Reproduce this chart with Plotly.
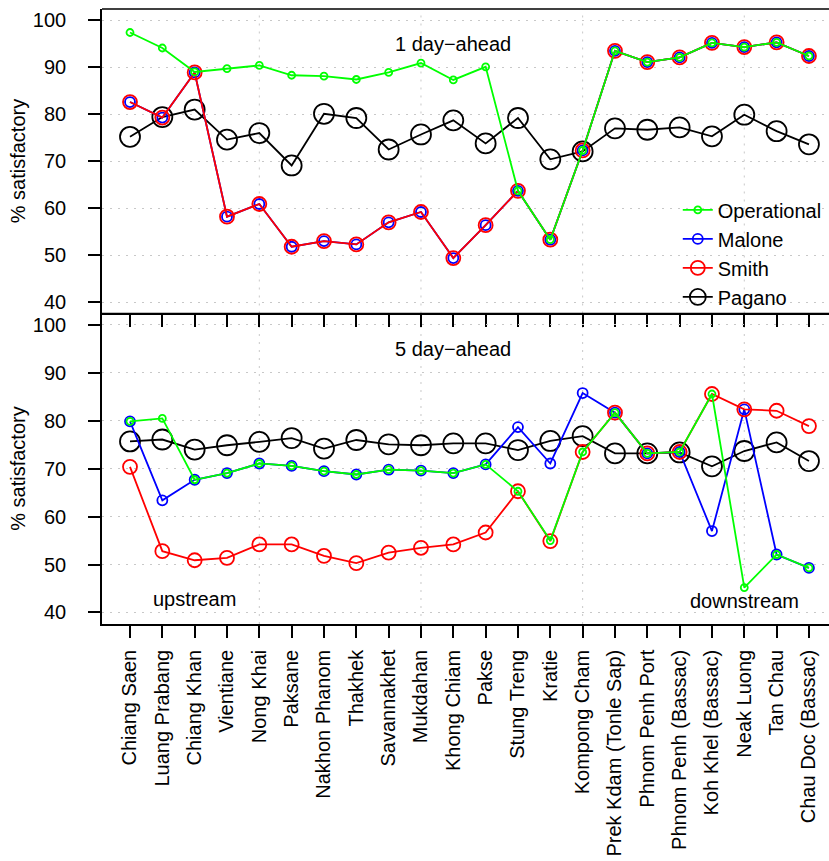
import plotly.graph_objects as go

stations = ["Chiang Saen", "Luang Prabang", "Chiang Khan", "Vientiane", "Nong Khai",
            "Paksane", "Nakhon Phanom", "Thakhek", "Savannakhet", "Mukdahan",
            "Khong Chiam", "Pakse", "Stung Treng", "Kratie", "Kompong Cham",
            "Prek Kdam (Tonle Sap)", "Phnom Penh Port", "Phnom Penh (Bassac)",
            "Koh Khel (Bassac)", "Neak Luong", "Tan Chau", "Chau Doc (Bassac)"]

# 1 day-ahead
op1 = [97.4, 94.1, 89.0, 89.7, 90.4, 88.3, 88.1, 87.4, 88.9, 90.9, 87.3,
       90.1, 63.7, 53.3, 72.3, 93.5, 91.1, 92.1, 95.2, 94.3, 95.3, 92.4]
ma1 = [82.6, 79.3, 88.9, 58.2, 60.9, 51.8, 53.0, 52.3, 57.0, 59.2, 49.4,
       56.4, 63.7, 53.3, 72.3, 93.5, 91.1, 92.1, 95.2, 94.3, 95.3, 92.4]
sm1 = [82.6, 79.3, 88.9, 58.2, 60.9, 51.8, 53.0, 52.3, 57.0, 59.2, 49.4,
       56.4, 63.7, 53.3, 72.3, 93.5, 91.1, 92.1, 95.2, 94.3, 95.3, 92.4]
pa1 = [75.2, 79.4, 81.0, 74.6, 76.0, 69.1, 80.1, 79.2, 72.5, 75.7, 78.7,
       73.8, 79.2, 70.4, 72.1, 77.0, 76.7, 77.2, 75.3, 79.9, 76.4, 73.6]

# 5 day-ahead
op5 = [79.9, 80.5, 67.7, 69.1, 71.1, 70.6, 69.5, 68.8, 69.8, 69.6, 69.1,
       70.9, 65.3, 55.0, 73.5, 81.7, 73.2, 73.5, 85.6, 45.2, 52.1, 49.3]
ma5 = [79.9, 63.4, 67.7, 69.1, 71.1, 70.6, 69.5, 68.8, 69.8, 69.6, 69.1,
       70.9, 78.7, 71.1, 85.8, 81.7, 73.2, 73.5, 57.0, 82.4, 52.1, 49.3]
sm5 = [70.4, 52.8, 50.9, 51.4, 54.2, 54.2, 51.8, 50.3, 52.5, 53.5, 54.2,
       56.7, 65.3, 54.9, 73.5, 81.7, 73.2, 73.5, 85.6, 82.4, 82.1, 78.9]
pa5 = [75.7, 76.1, 74.0, 74.9, 75.6, 76.4, 74.2, 76.0, 75.1, 74.9, 75.3,
       75.3, 73.9, 75.8, 76.8, 73.2, 73.2, 73.4, 70.5, 73.7, 75.5, 71.6]

y_ticks = [40, 50, 60, 70, 80, 90, 100]
series_names = ["Operational", "Malone", "Smith", "Pagano"]
colors = {"Operational": "#00FF00", "Malone": "#0000FF", "Smith": "#FF0000", "Pagano": "#000000"}
msize = {"Operational": 7, "Malone": 10, "Smith": 14, "Pagano": 20}
rank = {"Operational": 1, "Malone": 2, "Smith": 3, "Pagano": 4}

xi = list(range(len(stations)))
FONT = "Liberation Sans, Arial, Helvetica, sans-serif"
FS = 20
GRID = "#C8C8C8"
GDASH = "2px,6px"

fig = go.Figure()

panels = [
    ("x", "y", {"Pagano": pa1, "Malone": ma1, "Smith": sm1, "Operational": op1}, True),
    ("x2", "y2", {"Pagano": pa5, "Malone": ma5, "Smith": sm5, "Operational": op5}, False),
]
for xa, ya, data, show in panels:
    for name in ["Pagano", "Malone", "Smith", "Operational"]:
        fig.add_trace(go.Scatter(
            x=xi, y=data[name], xaxis=xa, yaxis=ya, name=name,
            mode="lines+markers", showlegend=show, legendrank=rank[name],
            line=dict(color=colors[name], width=1.8),
            marker=dict(symbol="circle-open", size=msize[name],
                        color=colors[name], line=dict(width=1.8, color=colors[name])),
        ))

xr = [-0.866, 21.62]
split = 0.5049
axis_common = dict(showline=True, linecolor="black", linewidth=1.6,
                   ticks="outside", ticklen=12, tickwidth=1.6, tickcolor="black",
                   zeroline=False, automargin=False)
fig.update_layout(
    width=829, height=861,
    margin=dict(l=102, r=0, t=9, b=237),
    paper_bgcolor="white", plot_bgcolor="white",
    font=dict(family=FONT, size=FS, color="black"),
    xaxis=dict(domain=[0, 1], range=xr, anchor="y", tickvals=xi, ticktext=[""] * len(xi),
               showgrid=False, **axis_common),
    yaxis=dict(domain=[split, 1], range=[37.6, 102.4], anchor="x", tickvals=y_ticks,
               showgrid=True, gridcolor=GRID, griddash=GDASH, gridwidth=1,
               ticklabelstandoff=18, **axis_common),
    xaxis2=dict(domain=[0, 1], range=xr, anchor="y2", tickvals=xi, ticktext=stations,
                tickangle=-90, showgrid=False, ticklabelstandoff=4, **axis_common),
    yaxis2=dict(domain=[0, split], range=[37.6, 102.4], anchor="x2", tickvals=y_ticks,
                showgrid=True, gridcolor=GRID, griddash=GDASH, gridwidth=1,
                ticklabelstandoff=18, **axis_common),
    legend=dict(x=0.792, y=0.705, xanchor="left", yanchor="top", bgcolor="rgba(0,0,0,0)",
                font=dict(size=FS), itemsizing="trace", tracegroupgap=0),
    showlegend=True,
)

shapes = []
for xr_, yr_ in [("x", "y"), ("x2", "y2")]:
    for gx in [4, 9, 14, 19]:
        shapes.append(dict(type="line", xref=xr_, yref=yr_ + " domain", x0=gx, x1=gx, y0=0, y1=1,
                           line=dict(color=GRID, width=1, dash=GDASH), layer="below"))
shapes.append(dict(type="line", xref="paper", yref="y domain", x0=0, x1=1, y0=1, y1=1,
                   line=dict(color="black", width=1.6)))
shapes.append(dict(type="line", xref="paper", yref="y2 domain", x0=0, x1=1, y0=1, y1=1,
                   line=dict(color="black", width=1.6)))
fig.update_layout(shapes=shapes)

ann = [
    dict(x=10, y=95, xref="x", yref="y", text="1 day\u2212ahead", showarrow=False),
    dict(x=10, y=95, xref="x2", yref="y2", text="5 day\u2212ahead", showarrow=False),
    dict(x=2, y=42.9, xref="x2", yref="y2", text="upstream", showarrow=False),
    dict(x=19, y=42.3, xref="x2", yref="y2", text="downstream", showarrow=False),
    dict(x=-0.1155, y=(split + 1) / 2, xref="paper", yref="paper", text="% satisfactory",
         textangle=-90, showarrow=False, xanchor="center", yanchor="middle"),
    dict(x=-0.1155, y=split / 2, xref="paper", yref="paper", text="% satisfactory",
         textangle=-90, showarrow=False, xanchor="center", yanchor="middle"),
]
for a in ann:
    a["font"] = dict(family=FONT, size=FS, color="black")
fig.update_layout(annotations=ann)

fig.write_html("out.html", config={"displayModeBar": False},
               post_script="document.body.style.margin='0';document.body.style.overflow='hidden';")
